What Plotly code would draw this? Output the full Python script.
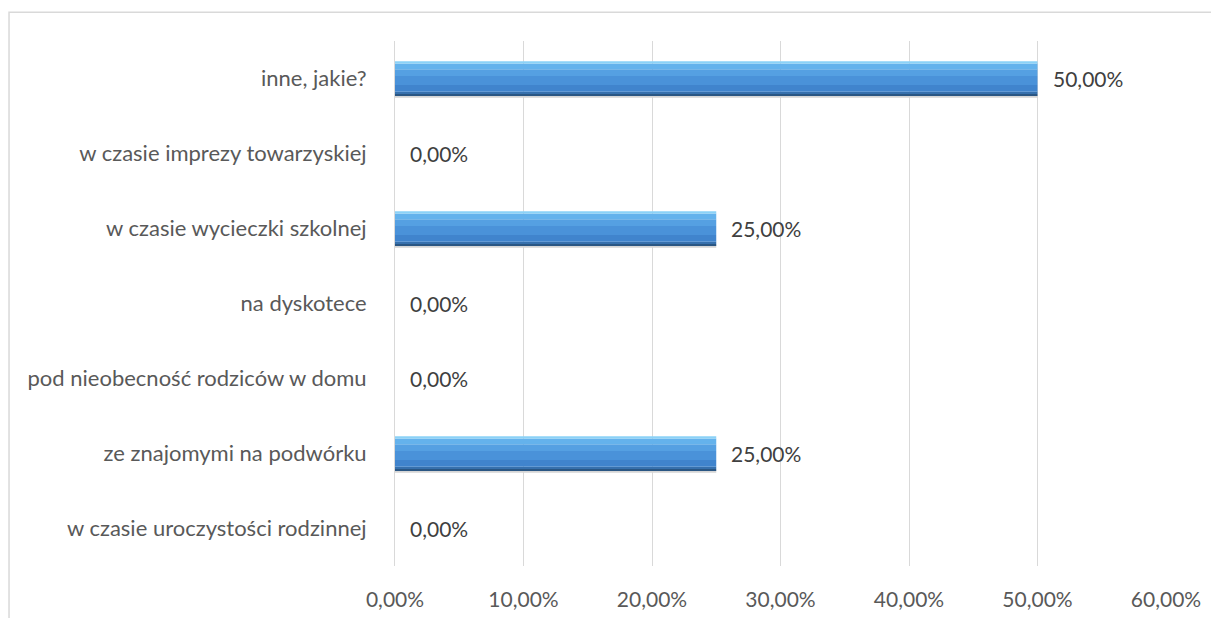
import plotly.graph_objects as go

categories = [
    "w czasie uroczystości rodzinnej",
    "ze znajomymi na podwórku",
    "pod nieobecność rodziców w domu",
    "na dyskotece",
    "w czasie wycieczki szkolnej",
    "w czasie imprezy towarzyskiej",
    "inne, jakie?",
]
values = [0.0, 0.25, 0.0, 0.0, 0.25, 0.0, 0.50]
tick_vals = [0, 0.1, 0.2, 0.3, 0.4, 0.5, 0.6]

font_name = "Lato, Open Sans, sans-serif"

# gradient bands of the bar, bottom to top: (thickness, colour)
bands = [
    (0.025, "#2a5683"),
    (0.03, "#3670ad"),
    (0.09, "#4084cd"),
    (0.12, "#4a92d9"),
    (0.09, "#55a0e2"),
    (0.075, "#64b2ec"),
    (0.03, "#8bd2f7"),
]

fig = go.Figure()

# faint shadow under the bar
fig.add_trace(go.Bar(
    x=values, y=categories, orientation="h",
    width=0.03, offset=-0.255,
    marker=dict(color="#d5d5d5", line=dict(width=0)),
    hoverinfo="skip", showlegend=False,
))

pos = -0.23
for thick, col in bands:
    fig.add_trace(go.Bar(
        x=values, y=categories, orientation="h",
        width=thick, offset=pos,
        marker=dict(color=col, line=dict(width=0)),
        hoverinfo="skip", showlegend=False,
    ))
    pos += thick

for cat, val in zip(categories, values):
    fig.add_annotation(
        x=val, y=cat, text=f"{val * 100:.2f}%".replace(".", ","),
        showarrow=False, xanchor="left", xshift=13,
        font=dict(family=font_name, size=21, color="#404040"),
    )

fig.update_layout(
    width=1219, height=618,
    margin=dict(l=387, r=61, t=33, b=60),
    paper_bgcolor="white", plot_bgcolor="white",
    barmode="overlay",
    separators=",.",
    font=dict(family=font_name, size=21, color="#595959"),
    xaxis=dict(
        range=[0, 0.6], tickvals=tick_vals, tickformat=".2%",
        showgrid=True, gridcolor="#d9d9d9", gridwidth=1,
        zeroline=False, ticks="", ticklabelstandoff=19,
        tickfont=dict(size=21),
        fixedrange=True,
    ),
    yaxis=dict(
        categoryorder="array", categoryarray=categories,
        showgrid=False, zeroline=False,
        showline=True, linecolor="#d9d9d9", linewidth=1,
        ticks="", ticklabelstandoff=23,
        tickfont=dict(size=22),
        fixedrange=True,
    ),
    shapes=[dict(
        type="rect", xref="paper", yref="paper",
        x0=-0.5006, x1=1.2, y0=-0.3, y1=1.055,
        line=dict(color="#d9d9d9", width=1.5), layer="below",
    )],
)

fig.write_html("out.html")
